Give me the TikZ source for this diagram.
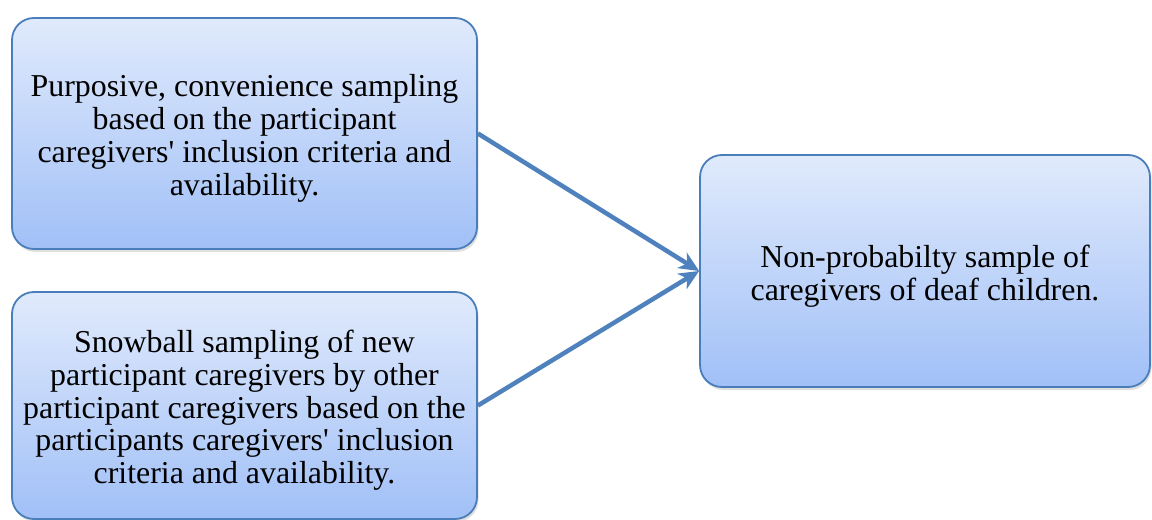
\documentclass[tikz,border=0pt]{standalone}
\usepackage{fontspec}
\setmainfont{Liberation Serif}[Ligatures=TeXOff]
\usetikzlibrary{arrows.meta,shadows}
\definecolor{boxtop}{HTML}{E0EAFC}
\definecolor{boxbot}{HTML}{A1C0F7}
\definecolor{boxedge}{HTML}{4A7EBB}
\definecolor{linkblue}{HTML}{4F81BD}
% centred stack of lines, drawn a little below the middle of its box
\newcommand{\stagelines}[1]{\raisebox{-6bp}[\height][\depth]{\begin{tabular}{@{}c@{}}#1\end{tabular}}}
\begin{document}
\begin{tikzpicture}[x=1bp,y=-1bp,
  stagebox/.style={draw=boxedge, line width=1.8bp, rounded corners=22bp,
    top color=boxtop, bottom color=boxbot, inner sep=0pt,
    font=\fontsize{32}{33}\selectfont,
    drop shadow={shadow xshift=1.5bp, shadow yshift=-3bp, opacity=0.25}},
  flow/.style={draw=linkblue, line width=4.5bp,
    -{Stealth[length=20bp,width=18bp,inset=6bp]}}]
\useasboundingbox (0,0) rectangle (1152,520);

\node[stagebox, minimum width=465bp, minimum height=231bp] (purposive) at (244.5,133.5)
  {\stagelines{Purposive, convenience sampling\\based on the participant\\caregivers' inclusion criteria and\\availability.}};
\node[stagebox, minimum width=465bp, minimum height=227bp] (snowball) at (244.5,405.5)
  {\stagelines{Snowball sampling of new\\participant caregivers by other\\participant caregivers based on the\\participants caregivers' inclusion\\criteria and availability.}};
\node[stagebox, minimum width=450bp, minimum height=232bp] (sample) at (925,271)
  {\stagelines{Non-probabilty sample of\\caregivers of deaf children.}};

\draw[flow] (purposive.east) -- (sample.west);
\draw[flow] (snowball.east) -- (sample.west);
\end{tikzpicture}
\end{document}
